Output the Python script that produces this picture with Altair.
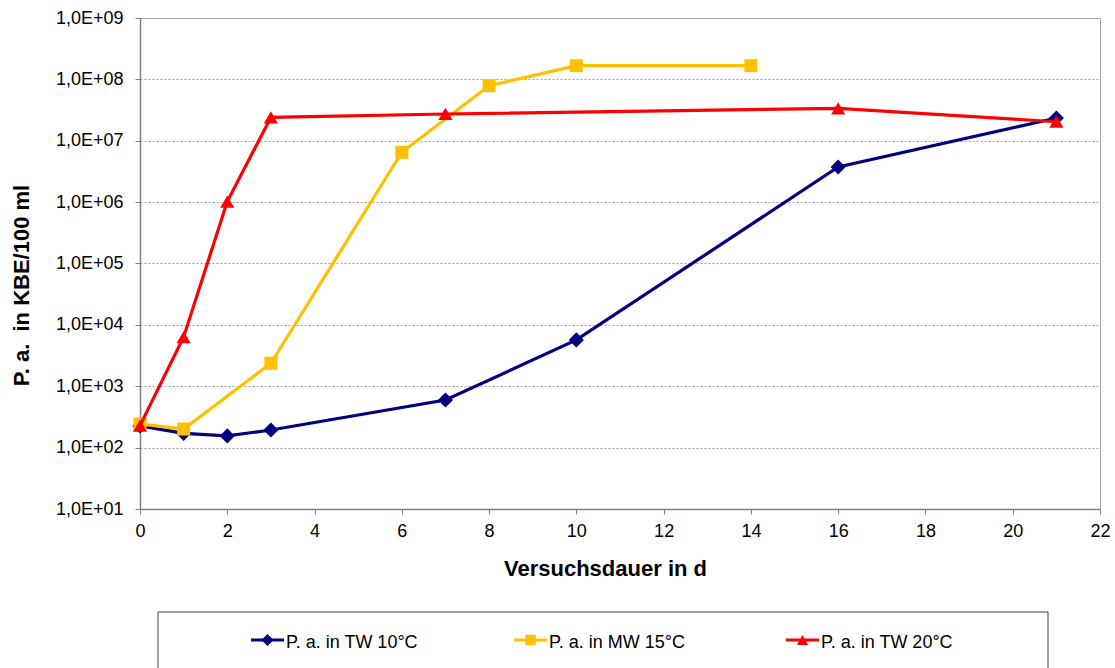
import altair as alt
import pandas as pd

# Versuchsdauer (d) and P. a. counts (KBE/100 ml) per test series
days_tw10 = [0, 1, 2, 3, 7, 10, 16, 21]
kbe_tw10 = [226, 171, 155, 194, 597, 5680, 3.73e6, 2.35e7]

days_mw15 = [0, 1, 3, 6, 8, 10, 14]
kbe_mw15 = [243, 201, 2370, 6.49e6, 7.89e7, 1.67e8, 1.67e8]

days_tw20 = [0, 1, 2, 3, 7, 16, 21]
kbe_tw20 = [228, 6340, 1.02e6, 2.41e7, 2.73e7, 3.38e7, 2.04e7]

series_names = ["P. a. in TW 10°C", "P. a. in MW 15°C", "P. a. in TW 20°C"]
series_colors = ["#000080", "#FFC000", "#FF0000"]
series_shapes = ["diamond", "square", "triangle-up"]
series_sizes = [230, 170, 200]

x_ticks = list(range(0, 23, 2))
y_ticks = [10 ** k for k in range(1, 10)]

FONT = "Liberation Sans"

x_scale = alt.Scale(domain=[0, 22], nice=False, zero=False)
y_scale = alt.Scale(type="log", domain=[10, 1e9], nice=False)

x_axis = alt.Axis(
    values=x_ticks, grid=False, title="Versuchsdauer in d", labelFlush=False,
    labelFont=FONT, labelFontSize=18, labelColor="#000000", labelPadding=8,
    tickColor="#808080", tickSize=5, domainColor="#808080", domainWidth=1.5,
    titleFont=FONT, titleFontSize=22, titleFontWeight="bold", titleColor="#000000",
    titleX=465, titleY=66, titleBaseline="alphabetic",
)
y_axis = alt.Axis(
    values=y_ticks, title="P. a.\u00a0 in KBE/100 ml", labelFlush=False,
    labelExpr="'1,0E+0' + round(log(datum.value) / LN10)",
    grid=True, gridColor="#a0a0a0", gridDash=[2, 2], gridWidth=1,
    labelFont=FONT, labelFontSize=18, labelColor="#000000", labelPadding=12,
    tickColor="#808080", tickSize=5, domainColor="#808080", domainWidth=1.5,
    titleFont=FONT, titleFontSize=22, titleFontWeight="bold", titleColor="#000000",
    titleX=-118.5, titleY=267, titleBaseline="middle",
)

series_data = [
    (days_tw10, kbe_tw10),
    (days_mw15, kbe_mw15),
    (days_tw20, kbe_tw20),
]

layers = []
for i, (days, kbe) in enumerate(series_data):
    df = pd.DataFrame({"tag": days, "kbe": kbe})
    enc = dict(
        x=alt.X("tag:Q", scale=x_scale, axis=x_axis),
        y=alt.Y("kbe:Q", scale=y_scale, axis=y_axis),
    )
    line = alt.Chart(df).mark_line(color=series_colors[i], strokeWidth=3.2).encode(**enc)
    pts = alt.Chart(df).mark_point(
        shape=series_shapes[i], filled=True, opacity=1,
        size=series_sizes[i], color=series_colors[i],
    ).encode(**enc)
    layers += [line, pts]

# Legend below the plot: framed box with line+marker samples and labels
one_row = pd.DataFrame({"k": [0]})
legend_box = alt.Chart(one_row).mark_rect(
    fillOpacity=0, stroke="#404040", strokeWidth=1
).encode(x=alt.value(18), x2=alt.value(908), y=alt.value(594), y2=alt.value(662))
layers.append(legend_box)

legend_start = [111, 374, 646]
for i, name in enumerate(series_names):
    x0 = legend_start[i]
    layers.append(
        alt.Chart(one_row).mark_rule(color=series_colors[i], strokeWidth=3)
        .encode(x=alt.value(x0), x2=alt.value(x0 + 33), y=alt.value(622))
    )
    layers.append(
        alt.Chart(one_row).mark_point(
            shape=series_shapes[i], filled=True, opacity=1,
            size=series_sizes[i] * 0.65, color=series_colors[i],
        ).encode(x=alt.value(x0 + 16.5), y=alt.value(622))
    )
    layers.append(
        alt.Chart(one_row).mark_text(
            text=name, align="left", baseline="alphabetic",
            font=FONT, fontSize=18, color="#000000",
        ).encode(x=alt.value(x0 + 35), y=alt.value(630))
    )

chart = alt.layer(*layers).properties(
    width=960,
    height=491,
    padding={"left": 140, "top": 18, "right": 15, "bottom": 159},
    autosize=alt.AutoSizeParams(type="none"),
    background="#ffffff",
).configure_view(stroke="#a6a6a6", strokeWidth=1)

chart.save("out.html", embed_options={"renderer": "svg", "actions": False})
